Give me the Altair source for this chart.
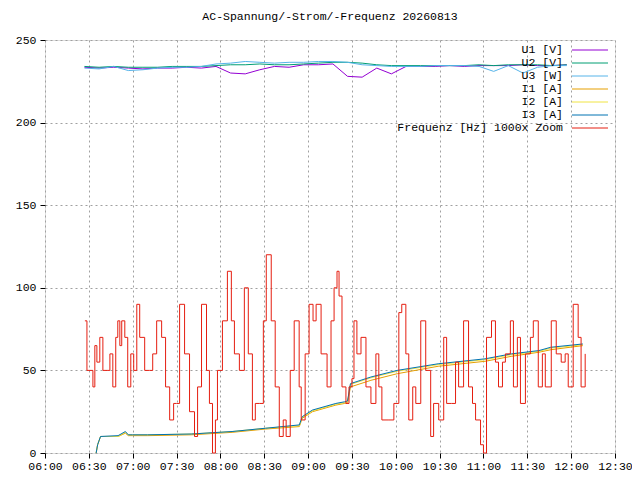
import altair as alt
import pandas as pd

FONT = "Liberation Mono"
FS = 11.5
BASE = pd.Timestamp("2026-08-13 06:00")

# voltages, one reading every 10 minutes from 06:27
u_min = list(range(27, 367, 10))
u1 = [233.5, 233, 233.5, 233, 232.5, 233, 233, 233.5, 233, 234, 230, 229.5, 232, 234, 233.5, 235, 235, 235.5,
      228, 227.5, 233, 229.5, 234, 234, 234, 234.5, 234, 234.5, 234.5, 234.5, 235, 234.5, 234.5, 235]
u2 = [234, 233.5, 234, 233.5, 233.5, 233.5, 234, 234, 234, 234.5, 235, 235, 235.5, 235, 235, 235.5, 236, 236.5,
      236.5, 236, 235, 234.5, 234.5, 234.5, 234.5, 234.5, 234.5, 235, 234.5, 235, 235, 235, 234.5, 235]
u3 = [233, 232.5, 234, 231.5, 232, 233, 233.5, 233.5, 234, 235.5, 236, 237, 236.5, 236, 236.5, 236.5, 237, 237,
      236.5, 235, 234.5, 234, 234, 234, 234.5, 234.5, 234.5, 234, 231, 234.5, 230, 233.5, 234.5, 234.5]

# currents
i_min = [35, 36, 38, 50, 55, 57, 60, 70, 100, 128, 151, 174, 176, 183, 199, 205, 207, 209, 223, 241, 269, 301,
         319, 338, 346, 368]
i3 = [0, 5, 10, 10.5, 13, 11, 11, 11, 11.5, 13, 15, 17, 22, 26, 30, 31, 31.5, 42, 46, 50, 54, 57, 60, 62, 64, 66]
i1 = [0, 5, 10, 10, 12, 10.5, 10.5, 10.5, 11, 12.5, 14.5, 16, 21, 25, 29, 30, 30.5, 40, 44, 48, 52.5, 55.5, 58.5,
      61, 62.5, 65]
i2 = [0, 5, 10, 10, 12.5, 11, 11, 11, 11.5, 13, 15, 16.5, 21.5, 25.5, 29.5, 30.5, 31, 41.5, 45.5, 49.5, 53.5,
      56.5, 59.5, 61.5, 63.5, 65.5]

# frequency (1000x zoom), minutes after 06:00
f_min = [27.3, 28.7, 32.1, 32.8, 34.1, 35.5, 37.5, 39.6, 43, 44.4, 46.4, 48.4, 49.8, 51.2, 52.5, 54.6, 56.6, 58.7,
         60.7, 62.8, 64.8, 68.2, 71.6, 73.7, 76.4, 79.8, 82.5, 85.3, 88, 90, 92.1, 95.5, 98.9, 102.3, 104.4, 107.1,
         110.5, 112.5, 114.6, 116.6, 118, 121.4, 124.8, 127.5, 129.6, 133, 136.4, 139.1, 141.9, 143.9, 146.6,
         149.4, 151.4, 154.8, 157.5, 160.3, 163, 165, 167.8, 170.5, 173.9, 175.3, 178, 180.7, 183.4, 185.5, 188.9,
         193, 195.7, 197.8, 199.8, 201.2, 203.2, 205.9, 208, 210, 211.4, 213.4, 216.2, 219.6, 223, 226.4, 228.4,
         230.5, 235.3, 238.7, 242.1, 244.1, 246.9, 248.9, 251.6, 253.7, 257.1, 260.5, 263.9, 265.9, 269.4, 272.8,
         274.8, 278.2, 280.9, 283, 286.4, 289.8, 292.5, 294.6, 298, 300, 302.1, 305.5, 308.2, 310.3, 313, 315,
         318.4, 320.5, 323.2, 325.3, 328.7, 332.1, 334.1, 337.5, 340.3, 342.3, 346.4, 349.8, 353.2, 355.9, 358,
         361.4, 364.8, 366.8, 369.6]
freq = [80, 50, 50, 40, 65, 55, 70, 50, 50, 60, 40, 70, 80, 65, 80, 70, 40, 60, 50, 90, 70, 50, 50, 60, 80, 70,
        40, 20, 30, 30, 90, 60, 25, 10, 40, 90, 50, 30, 0, 20, 50, 80, 110, 80, 60, 50, 100, 60, 20, 30, 30, 80,
        120, 80, 40, 10, 20, 10, 50, 80, 40, 20, 60, 90, 80, 90, 60, 40, 80, 100, 110, 95, 40, 30, 40, 45, 80, 60,
        70, 40, 30, 60, 40, 20, 20, 30, 85, 90, 60, 20, 40, 30, 80, 50, 10, 30, 20, 70, 30, 30, 55, 40, 80, 40, 30,
        20, 5, 0, 70, 80, 55, 40, 55, 60, 80, 40, 70, 30, 60, 70, 80, 40, 60, 40, 80, 60, 55, 60, 40, 90, 70, 40,
        60]

series = ["U1 [V]", "U2 [V]", "U3 [W]", "I1 [A]", "I2 [A]", "I3 [A]", "Frequenz [Hz] 1000x Zoom"]
colors = ["#9400d3", "#009e73", "#56b4e9", "#e69f00", "#f0e442", "#0072b2", "#e51e10"]

rows = []
for name, mins, vals in [(series[0], u_min, u1), (series[1], u_min, u2), (series[2], u_min, u3),
                         (series[3], i_min, i1), (series[4], i_min, i2), (series[5], i_min, i3),
                         (series[6], f_min, freq)]:
    for m, v in zip(mins, vals):
        rows.append({"t": BASE + pd.Timedelta(minutes=m), "v": v, "s": name})
df = pd.DataFrame(rows)
df["t"] = df["t"].dt.strftime("%Y-%m-%dT%H:%M:%S")

ticks = [(BASE + pd.Timedelta(minutes=30 * k)).strftime("%Y-%m-%dT%H:%M:%S") for k in range(14)]
tmin = dict(year=2026, month=8, date=13, hours=6)
tmax = dict(year=2026, month=8, date=13, hours=12, minutes=30)

color = alt.Color("s:N", scale=alt.Scale(domain=series, range=colors), legend=None)
x_enc = alt.X("t:T", title=None, scale=alt.Scale(domain=[alt.DateTime(**tmin), alt.DateTime(**tmax)]),
              axis=alt.Axis(values=ticks, format="%H:%M", grid=True, gridDash=[2, 3], gridColor="#a0a0a0",
                            domain=False, tickColor="black", labelFont=FONT, labelFontSize=FS, labelColor="black",
                            labelPadding=2, labelOverlap=False, labelBound=False, labelFlush=False))
y_enc = alt.Y("v:Q", title=None, scale=alt.Scale(domain=[0, 250]),
              axis=alt.Axis(values=[0, 50, 100, 150, 200, 250], grid=True, gridDash=[2, 3], gridColor="#a0a0a0",
                            domain=False, tickColor="black", labelFont=FONT, labelFontSize=FS, labelColor="black",
                            labelPadding=4, labelFlush=False))

base = alt.Chart(df)
smooth = base.transform_filter(alt.datum.s != series[6]).mark_line(strokeWidth=1).encode(
    x=x_enc, y=y_enc, color=color, detail="s:N")
freq_line = base.transform_filter(alt.datum.s == series[6]).mark_line(
    strokeWidth=1, interpolate="step-after").encode(x=x_enc, y=y_enc, color=color)

leg = pd.DataFrame({"s": series, "k": list(range(len(series)))})
leg_base = alt.Chart(leg).transform_calculate(py="10 + datum.k * 13")
leg_text = leg_base.mark_text(align="right", baseline="middle", font=FONT, fontSize=FS, color="black").encode(
    x=alt.value(518), y=alt.Y("py:Q", scale=None), text="s:N")
leg_line = leg_base.mark_rule(strokeWidth=1).encode(
    x=alt.value(527), x2=alt.value(563), y=alt.Y("py:Q", scale=None), color=color)

chart = alt.layer(smooth, freq_line, leg_text, leg_line).properties(
    width=570, height=413,
    autosize=alt.AutoSizeParams(type="none"),
    padding={"left": 37, "top": 32, "right": 17, "bottom": 19},
    title=alt.TitleParams("AC-Spannung/-Strom/-Frequenz 20260813", font=FONT, fontSize=FS, fontWeight="normal",
                          offset=12),
).configure_view(stroke="black", strokeWidth=1).configure(background="white")

chart.save("out.html", embed_options={"renderer": "svg", "actions": False})
